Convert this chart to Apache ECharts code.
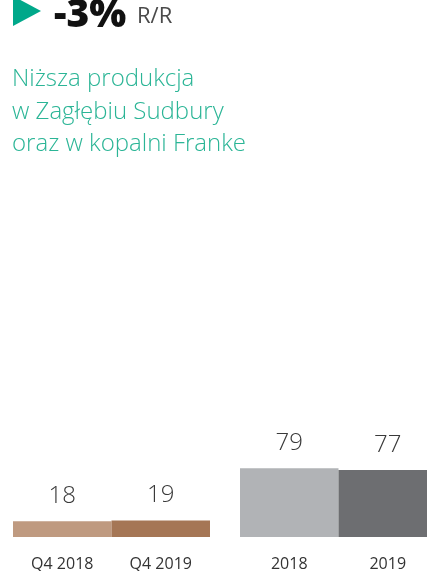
<!DOCTYPE html>
<html>
<head>
<meta charset="utf-8">
<script src="https://cdn.jsdelivr.net/npm/echarts@6/dist/echarts.min.js"></script>
<style>
  html, body { margin: 0; padding: 0; background: #fff; }
  #chart { width: 427px; height: 571px; }
</style>
</head>
<body>
<div id="chart"></div>
<script>
// quarterly and yearly values
const quarterCats = ['Q4 2018', 'Q4 2019']
const quarterVals = [18, 19]
const yearCats = ['2018', '2019']
const yearVals = [79, 77]

const quarterColors = ['#bf9a80', '#a57655']
const yearColors = ['#b1b3b6', '#6d6e71']

const changeText = '-3%'
const changeUnit = 'R/R'
const noteLines = ['Niższa produkcja', 'w Zagłębiu Sudbury', 'oraz w kopalni Franke']

const FONT = '"Open Sans", "Noto Sans", sans-serif'

function barData(vals, colors) {
  return vals.map((v, i) => ({ value: v, itemStyle: { color: colors[i] } }))
}

const labelStyle = {
  show: true,
  position: 'top',
  distance: 13,
  fontSize: 24,
  fontWeight: 300,
  fontFamily: FONT,
  color: '#3a3a3a'
}

const catAxis = (cats, idx) => ({
  type: 'category',
  gridIndex: idx,
  data: cats,
  axisLine: { show: false },
  axisTick: { show: false },
  axisLabel: { margin: 19, fontSize: 16, fontFamily: FONT, color: '#333' }
})

const valAxis = idx => ({
  type: 'value',
  gridIndex: idx,
  min: 0,
  max: 115,
  show: false,
  splitLine: { show: false }
})

let chart = echarts.init(document.getElementById('chart'))
chart.setOption({
  animation: false,
  grid: [
    { left: 13, width: 197, top: 437, bottom: 34, outerBoundsMode: 'none' },
    // second pair runs past the right edge, like the source crop
    { left: 240, width: 197, top: 437, bottom: 34, outerBoundsMode: 'none' }
  ],
  xAxis: [catAxis(quarterCats, 0), catAxis(yearCats, 1)],
  yAxis: [valAxis(0), valAxis(1)],
  series: [
    {
      type: 'bar',
      xAxisIndex: 0,
      yAxisIndex: 0,
      barWidth: '100%',
      data: barData(quarterVals, quarterColors),
      label: labelStyle
    },
    {
      type: 'bar',
      xAxisIndex: 1,
      yAxisIndex: 1,
      barWidth: '100%',
      data: barData(yearVals, yearColors),
      label: labelStyle
    }
  ],
  graphic: [
    {
      type: 'polygon',
      shape: { points: [[13, -4], [41, 11], [13, 26]] },
      style: { fill: '#00a88a' }
    },
    {
      type: 'text',
      left: 54,
      top: -4,
      style: {
        text: changeText,
        fontSize: 39,
        fontWeight: 800,
        fontFamily: FONT,
        fill: '#111'
      }
    },
    {
      type: 'text',
      left: 137,
      top: 6,
      style: {
        text: changeUnit,
        fontSize: 22,
        fontFamily: FONT,
        fill: '#4a4a4a'
      }
    },
    {
      type: 'text',
      left: 12,
      top: 63,
      style: {
        text: noteLines.join('\n'),
        fontSize: 24,
        lineHeight: 32.5,
        fontWeight: 300,
        fontFamily: FONT,
        fill: '#2bb596'
      }
    }
  ]
})
</script>
</body>
</html>
